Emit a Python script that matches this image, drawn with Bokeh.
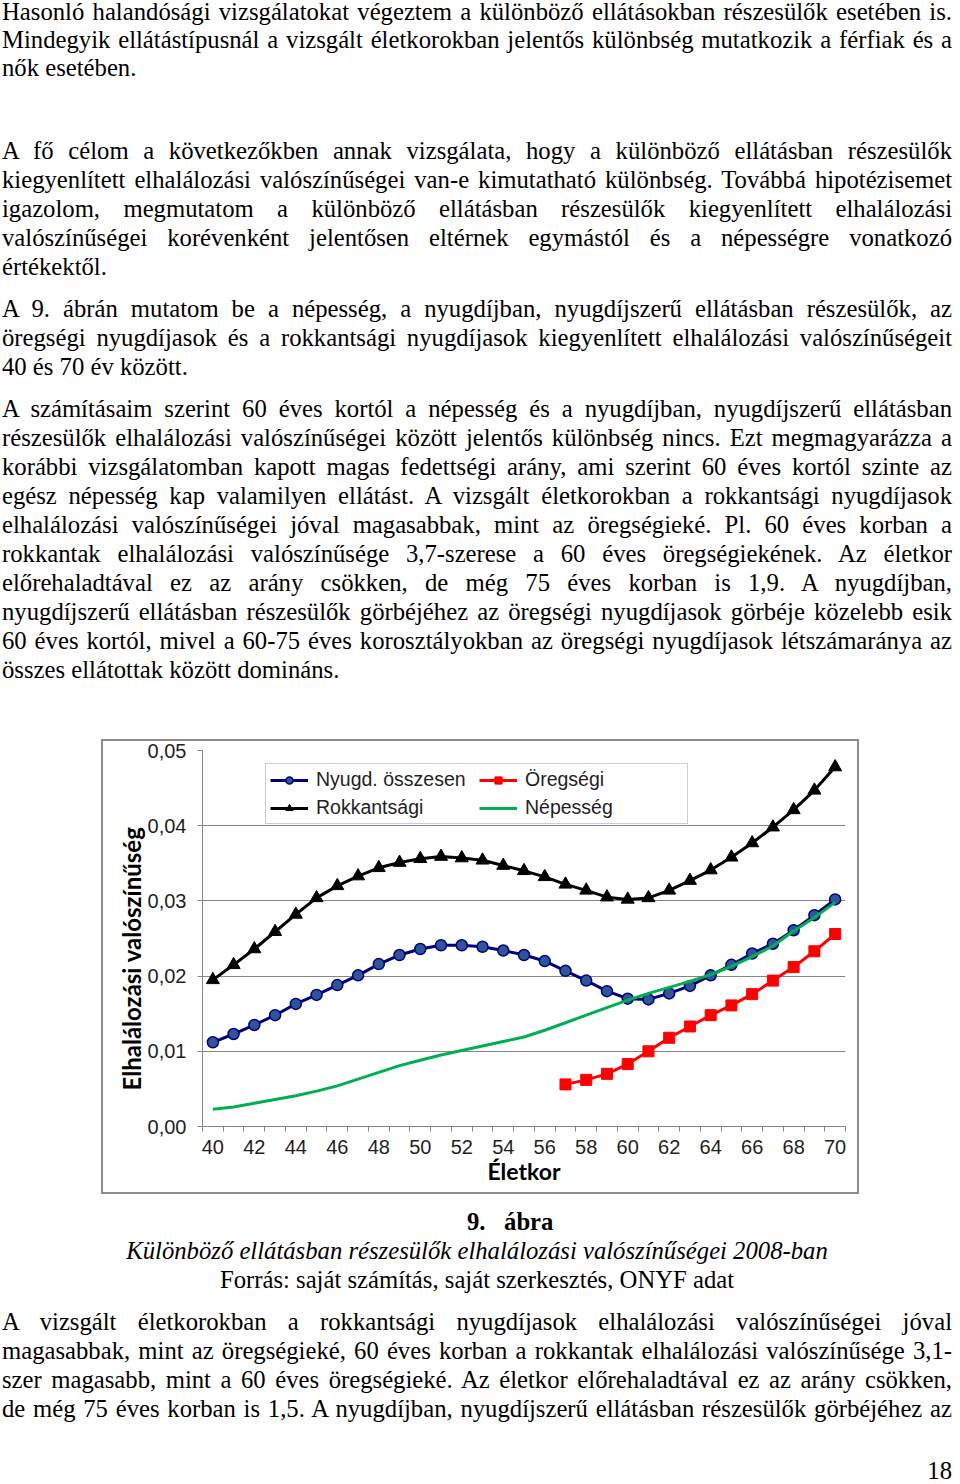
from bokeh.plotting import figure
from bokeh.models import (Div, FixedTicker, CustomJSTickFormatter, Legend, LegendItem,
                          Title, Range1d)
from bokeh.layouts import column
from bokeh.embed import file_html
from bokeh.resources import INLINE

# ---------------- data ----------------
ages = list(range(40, 71))
nyugd_osszesen = [0.0112, 0.0123, 0.0135, 0.0148, 0.0163, 0.0175, 0.0188, 0.0201, 0.0216, 0.0228,
                  0.0236, 0.0241, 0.0241, 0.0239, 0.0234, 0.0228, 0.0220, 0.0207, 0.0194, 0.0180,
                  0.0170, 0.0169, 0.0177, 0.0187, 0.0201, 0.0215, 0.0230, 0.0243, 0.0261, 0.0281,
                  0.0302]
rokkantsagi = [0.0195, 0.0215, 0.0236, 0.0259, 0.0282, 0.0304, 0.0320, 0.0333, 0.0344, 0.0351,
               0.0356, 0.0359, 0.0357, 0.0354, 0.0347, 0.0340, 0.0332, 0.0322, 0.0314, 0.0305,
               0.0302, 0.0304, 0.0314, 0.0327, 0.0341, 0.0358, 0.0377, 0.0398, 0.0421, 0.0447,
               0.0478]
oregsegi_ages = list(range(57, 71))
oregsegi = [0.0056, 0.0062, 0.0070, 0.0083, 0.0100, 0.0118, 0.0133, 0.0148, 0.0161, 0.0176,
            0.0194, 0.0212, 0.0233, 0.0256]
nepesseg = [0.0023, 0.0026, 0.0031, 0.0036, 0.0041, 0.0047, 0.0054, 0.0063, 0.0072, 0.0081,
            0.0088, 0.0095, 0.0101, 0.0107, 0.0113, 0.0119, 0.0128, 0.0138, 0.0148, 0.0158,
            0.0168, 0.0177, 0.0185, 0.0193, 0.0202, 0.0213, 0.0226, 0.0240, 0.0260, 0.0278,
            0.0298]
x_label_ticks = list(range(40, 71, 2))
y_ticks = [0.0, 0.01, 0.02, 0.03, 0.04, 0.05]
series_names = ["Nyugd. összesen", "Öregségi", "Rokkantsági", "Népesség"]
y_title = "Elhalálozási valószínűség"
x_title = "Életkor"

# ---------------- text ----------------
p1 = [("Hasonló halandósági vizsgálatokat végeztem a különböző ellátásokban részesülők esetében is.", True),
      ("Mindegyik ellátástípusnál a vizsgált életkorokban jelentős különbség mutatkozik a férfiak és a", True),
      ("nők esetében.", False)]
p2 = [("A fő célom a következőkben annak vizsgálata, hogy a különböző ellátásban részesülők", True),
      ("kiegyenlített elhalálozási valószínűségei van-e kimutatható különbség. Továbbá hipotézisemet", True),
      ("igazolom, megmutatom a különböző ellátásban részesülők kiegyenlített elhalálozási", True),
      ("valószínűségei korévenként jelentősen eltérnek egymástól és a népességre vonatkozó", True),
      ("értékektől.", False)]
p3 = [("A 9. ábrán mutatom be a népesség, a nyugdíjban, nyugdíjszerű ellátásban részesülők, az", True),
      ("öregségi nyugdíjasok és a rokkantsági nyugdíjasok kiegyenlített elhalálozási valószínűségeit", True),
      ("40 és 70 év között.", False)]
p4 = [("A számításaim szerint 60 éves kortól a népesség és a nyugdíjban, nyugdíjszerű ellátásban", True),
      ("részesülők elhalálozási valószínűségei között jelentős különbség nincs. Ezt megmagyarázza a", True),
      ("korábbi vizsgálatomban kapott magas fedettségi arány, ami szerint 60 éves kortól szinte az", True),
      ("egész népesség kap valamilyen ellátást. A vizsgált életkorokban a rokkantsági nyugdíjasok", True),
      ("elhalálozási valószínűségei jóval magasabbak, mint az öregségieké. Pl. 60 éves korban a", True),
      ("rokkantak elhalálozási valószínűsége 3,7-szerese a 60 éves öregségiekének. Az életkor", True),
      ("előrehaladtával ez az arány csökken, de még 75 éves korban is 1,9. A nyugdíjban,", True),
      ("nyugdíjszerű ellátásban részesülők görbéjéhez az öregségi nyugdíjasok görbéje közelebb esik", True),
      ("60 éves kortól, mivel a 60-75 éves korosztályokban az öregségi nyugdíjasok létszámaránya az", True),
      ("összes ellátottak között domináns.", False)]
caption_num = "9.\u00a0\u00a0\u00a0ábra"
caption_title = "Különböző ellátásban részesülők elhalálozási valószínűségei 2008-ban"
caption_source = "Forrás: saját számítás, saját szerkesztés, ONYF adat"
p5 = [("A vizsgált életkorokban a rokkantsági nyugdíjasok elhalálozási valószínűségei jóval", True),
      ("magasabbak, mint az öregségieké, 60 éves korban a rokkantak elhalálozási valószínűsége 3,1-", True),
      ("szer magasabb, mint a 60 éves öregségieké. Az életkor előrehaladtával ez az arány csökken,", True),
      ("de még 75 éves korban is 1,5. A nyugdíjban, nyugdíjszerű ellátásban részesülők görbéjéhez az", True)]
page_number = "18"

FONT = "'Liberation Serif', 'Times New Roman', serif"
FS = 24.7
LH = 29
TEXT_W = 950
SHEET = [":host{overflow:visible !important;} div{overflow:visible !important;}"]


def line_div(text, top, justify):
    al = "justify" if justify else "left"
    return (f'<div style="position:absolute;left:0;top:{top:.1f}px;width:{TEXT_W}px;height:{LH}px;'
            f'line-height:{LH}px;white-space:nowrap;text-align:{al};text-align-last:{al};">'
            f'{text}</div>')


def para(lines, first_center, step, origin):
    out = []
    for i, (t, j) in enumerate(lines):
        top = first_center + i * step - 16.5 - origin
        out.append(line_div(t, top, j))
    return "".join(out)


def wrap(inner, h):
    return (f'<div style="position:relative;left:-3px;top:0;width:{TEXT_W}px;height:{h}px;'
            f'font-family:{FONT};font-size:{FS}px;color:#000;">{inner}</div>')


TOP_H = 729
TOP_O = 3.5
top_html = (para(p1, 12, 28.2, TOP_O) + para(p2, 151, 29, TOP_O) + para(p3, 309, 29, TOP_O) +
            para(p4, 409, 29, TOP_O))
top_div = Div(text=wrap(top_html, TOP_H), width=TEXT_W - 6, height=TOP_H,
              stylesheets=SHEET, styles={"overflow": "visible"})

BOT_O = 1198
BOT_H = 284
bot_html = (
    f'<div style="position:absolute;left:465px;top:{1222-16.5-BOT_O:.1f}px;height:{LH}px;line-height:{LH}px;'
    f'white-space:nowrap;font-weight:bold;">{caption_num}</div>'
    f'<div style="position:absolute;left:0;top:{1251-16.5-BOT_O:.1f}px;width:{TEXT_W}px;height:{LH}px;'
    f'line-height:{LH}px;white-space:nowrap;text-align:center;font-style:italic;">{caption_title}</div>'
    f'<div style="position:absolute;left:0;top:{1280-16.5-BOT_O:.1f}px;width:{TEXT_W}px;height:{LH}px;'
    f'line-height:{LH}px;white-space:nowrap;text-align:center;">{caption_source}</div>'
    + para(p5, 1322, 29, BOT_O) +
    f'<div style="position:absolute;left:0;top:{1478-18.3-BOT_O:.1f}px;width:{TEXT_W}px;height:20px;'
    f'line-height:20px;white-space:nowrap;text-align:right;">{page_number}</div>'
)
bot_div = Div(text=wrap(bot_html, BOT_H), width=TEXT_W - 6, height=BOT_H,
              stylesheets=SHEET, styles={"overflow": "visible"})

# ---------------- chart ----------------
AX = "#868686"
p = figure(width=758, height=455, x_range=Range1d(39.5, 70.5), y_range=Range1d(0, 0.05),
           output_backend="svg", toolbar_location=None,
           min_border_left=101, min_border_right=14, min_border_top=11, min_border_bottom=68,
           background_fill_color="white", border_fill_color=None, outline_line_color=None,
           styles={"box-shadow": "inset 0 0 0 2px #8c8c8c"}, margin=(0, 0, 0, 101))

r_blue_l = p.line(ages, nyugd_osszesen, line_color="#000080", line_width=3)
r_blue_m = p.scatter(ages, nyugd_osszesen, marker="circle", size=11, fill_color="#2e5596",
                     line_color="#000080", line_width=1.5)
r_red_l = p.line(oregsegi_ages, oregsegi, line_color="#ff0000", line_width=3)
r_red_m = p.scatter(oregsegi_ages, oregsegi, marker="square", size=11, fill_color="#ff0000",
                    line_color="#ff0000")
r_blk_l = p.line(ages, rokkantsagi, line_color="#000000", line_width=3)
r_blk_m = p.scatter(ages, rokkantsagi, marker="triangle", size=13, fill_color="#000000",
                    line_color="#000000")
r_grn = p.line(ages, nepesseg, line_color="#00b050", line_width=3)

# axes
p.yaxis.ticker = FixedTicker(ticks=y_ticks)
p.yaxis.formatter = CustomJSTickFormatter(code="return tick.toFixed(2).replace('.', ',');")
p.yaxis.axis_line_color = AX
p.yaxis.major_tick_line_color = AX
p.yaxis.major_tick_out = 5
p.yaxis.major_tick_in = 0
p.yaxis.minor_tick_line_color = None
p.yaxis.major_label_standoff = 11
p.yaxis.major_label_text_font = "Liberation Sans"
p.yaxis.major_label_text_font_size = "20px"
p.yaxis.major_label_text_color = "#1f1f1f"

# y title as a left-side title, anchored at the bottom and lifted like the original
p.add_layout(Title(text=y_title, align="left", offset=36, standoff=-3,
                   text_font="Lato", text_font_style="bold", text_font_size="24px",
                   text_color="#000000"), "left")

p.xaxis.ticker = FixedTicker(ticks=x_label_ticks, minor_ticks=[a - 0.5 for a in range(40, 72)])
p.xaxis.axis_line_color = AX
p.xaxis.major_tick_line_color = None
p.xaxis.major_tick_out = 5
p.xaxis.major_tick_in = 0
p.xaxis.minor_tick_line_color = AX
p.xaxis.minor_tick_out = 5
p.xaxis.minor_tick_in = 0
p.xaxis.major_label_standoff = 8
p.xaxis.major_label_text_font = "Liberation Sans"
p.xaxis.major_label_text_font_size = "20px"
p.xaxis.major_label_text_color = "#1f1f1f"
p.xaxis.axis_label = x_title
p.xaxis.axis_label_text_font = "Lato"
p.xaxis.axis_label_text_font_style = "bold"
p.xaxis.axis_label_text_font_size = "23px"
p.xaxis.axis_label_text_color = "#000000"
p.xaxis.axis_label_standoff = 0

p.ygrid.ticker = FixedTicker(ticks=y_ticks)
p.ygrid.grid_line_color = AX
p.ygrid.grid_line_width = 1
p.xgrid.grid_line_color = None

legend = Legend(items=[LegendItem(label=series_names[0], renderers=[r_blue_l, r_blue_m]),
                       LegendItem(label=series_names[1], renderers=[r_red_l, r_red_m]),
                       LegendItem(label=series_names[2], renderers=[r_blk_l, r_blk_m]),
                       LegendItem(label=series_names[3], renderers=[r_grn])],
                location=(63, 302), orientation="horizontal", ncols=2,
                border_line_color="#8aa2c0", border_line_width=1, background_fill_color="white",
                background_fill_alpha=1, padding=4, spacing=5, margin=0,
                glyph_width=38, glyph_height=18, label_height=18, label_width=158,
                label_standoff=8, label_text_font="Liberation Sans", label_text_font_size="19.5px",
                label_text_color="#1f1f1f")
p.add_layout(legend)

layout = column(top_div, p, bot_div, spacing=0, styles={"overflow": "visible"})

with open("out.html", "w", encoding="utf-8") as f:
    f.write(file_html(layout, INLINE))
